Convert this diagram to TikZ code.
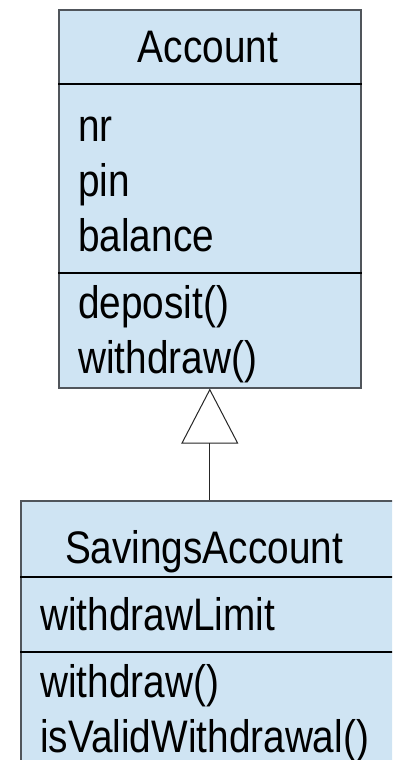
\documentclass[tikz,border=0pt]{standalone}
\usepackage{fontspec}
\setmainfont[FakeStretch=0.85]{Liberation Sans}
\usetikzlibrary{arrows.meta}
\definecolor{classfill}{HTML}{CFE4F3}
\definecolor{classborder}{HTML}{50555B}
\begin{document}
\begin{tikzpicture}[x=1pt,y=-1pt,
  font=\fontsize{45.6}{55}\selectfont,
  classbox/.style={fill=classfill, draw=classborder, line width=1.6pt, inner sep=0pt, anchor=north west},
  divider/.style={draw=black, line width=1.2pt},
  txt/.style={inner sep=0pt, anchor=base west},
  ttl/.style={inner sep=0pt, anchor=base},
  inherit/.style={draw=black!85, line width=1pt, -{Triangle[open, length=55pt, width=57pt]}}]
\useasboundingbox (0,0) rectangle (392,760);
\clip (0,0) rectangle (392,760);
\fill[white] (0,0) rectangle (392,760);
% Account class
\node[classbox, minimum width=302pt, minimum height=378pt] (account) at (58,9) {};
\draw[divider] (account.west |- 0,84) -- (account.east |- 0,84);
\draw[divider] (account.west |- 0,273) -- (account.east |- 0,273);
\node[ttl] (acctitle) at (208,63) {Account};
\node[txt] (anr) at (78,141) {nr};
\node[txt] (apin) at (78,196) {pin};
\node[txt] (abal) at (78,251) {balance};
\node[txt] (adep) at (78,318) {deposit()};
\node[txt] (awd) at (78,373) {withdraw()};
% SavingsAccount class
\node[classbox, minimum width=378pt, minimum height=290pt] (savings) at (20,500) {};
\draw[divider] (savings.west |- 0,577) -- (savings.east |- 0,577);
\draw[divider] (savings.west |- 0,652) -- (savings.east |- 0,652);
\node[ttl] (savtitle) at (204,563) {SavingsAccount};
\node[txt] (swl) at (40,630) {withdrawLimit};
\node[txt] (swd) at (40,697) {withdraw()};
\node[txt] (sval) at (40,752) {isValidWithdrawal()};
% inheritance
\draw[inherit] (savings.north) -- (account.south);
\end{tikzpicture}
\end{document}
